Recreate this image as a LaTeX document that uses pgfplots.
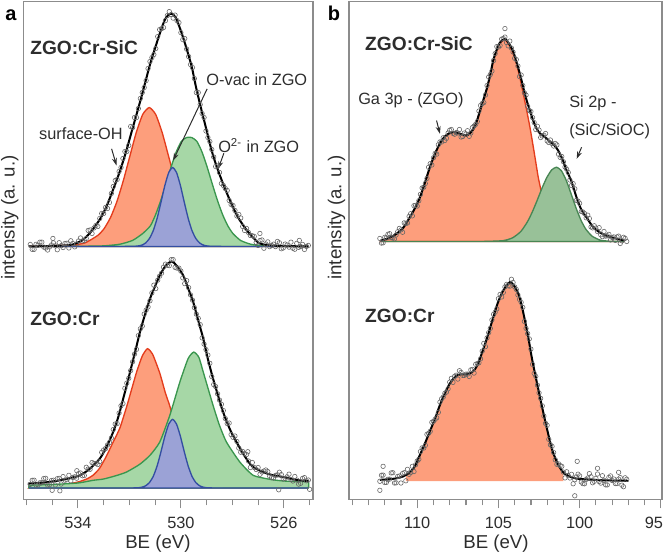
\documentclass[border=0pt]{standalone}
\usepackage{pgfplots}
\pgfplotsset{compat=1.18}
\usepackage{fontspec}
\setmainfont{Liberation Sans}
\usetikzlibrary{arrows.meta}

\definecolor{redfill}{RGB}{253,158,124}
\definecolor{redline}{RGB}{228,60,28}
\definecolor{greenfill}{RGB}{166,215,166}
\definecolor{greenline}{RGB}{58,150,78}
\definecolor{bluefill}{RGB}{155,162,214}
\definecolor{blueline}{RGB}{52,78,162}
\definecolor{sagefill}{RGB}{152,193,152}
\definecolor{sageline}{RGB}{72,134,84}
\definecolor{framegray}{RGB}{140,140,140}
\definecolor{txt}{RGB}{45,45,45}

\newcommand{\tickfont}{\fontsize{9.8}{12}\selectfont}
\newcommand{\labfont}{\fontsize{11.2}{13}\selectfont}
\newcommand{\annfont}{\fontsize{9.8}{12}\selectfont}
\newcommand{\samfont}{\bfseries\fontsize{11.5}{13}\selectfont}

\tikzset{
  arr/.style={-{Stealth[length=4.5pt,width=3pt]}, line width=0.6pt, txt},
  lab/.style={inner sep=0pt, text=txt},
}

\begin{document}
\begin{tikzpicture}
\useasboundingbox (0pt,0pt) rectangle (399.6pt,333pt);
\pgfplotsset{
  panel/.style={
    scale only axis, clip=false, anchor=south west,
    height=298.8pt, ymin=0, ymax=498.3,
    x dir=reverse, ytick=\empty,
    axis line style={framegray, line width=0.7pt},
    tick align=outside, xtick pos=left,
    major tick length=5.4pt, minor tick length=3.6pt,
    tick style={framegray, line width=0.7pt},
    xticklabel style={font=\tickfont, text=txt, yshift=-1.5pt},
    /pgf/number format/assume math mode=true,
  },
  comp/.style={line width=0.8pt, smooth, tension=0.35},
  env/.style={black, line width=1.2pt, smooth, tension=0.5},
  pts/.style={only marks, mark=o, mark size=1.35pt, mark options={draw=black!60, line width=0.35pt}},
}

% ================= panel a =================
\begin{axis}[panel, at={(13.98pt,33.42pt)}, width=173.8pt,
  xmin=524.87, xmax=536.12, xtick={526,530,534},
  minor xtick={525,527,528,529,531,532,533,535,536}]

% --- top: ZGO:Cr-SiC (baseline 253)
\addplot[comp, draw=redline, fill=redfill] coordinates {
(535.9,253) (535.23,253.5) (534.23,254.5) (533.73,256.5) (533.23,264.0) (532.98,270.9)
(532.73,282.1) (532.48,298.2) (532.23,319.3) (531.98,343.5) (531.73,367.3) (531.48,385.2)
(531.23,392) (530.98,385.2) (530.73,367.3) (530.48,343.5) (530.23,319.3) (529.98,298.2)
(529.73,282.1) (529.48,270.9) (529.23,264.0) (528.73,256.5) (528.23,254.5) (527.23,253.5) (525.05,253)
} -- cycle;
\addplot[comp, draw=greenline, fill=greenfill] coordinates {
(535.9,253) (534.5,253.1) (533.08,253.5) (532.38,255.2) (531.88,259.0) (531.48,266.0)
(531.18,273.8) (530.98,284.9) (530.78,299.1) (530.58,315.5) (530.38,332.5) (530.18,347.6)
(529.98,358.2) (529.78,362) (529.58,362) (529.38,358.2) (529.18,347.6) (528.98,332.5)
(528.78,315.5) (528.58,299.1) (528.38,284.9) (528.18,273.8) (527.98,266.0) (527.68,259.0)
(527.28,255.2) (526.78,253.9) (526.08,253.5) (525.05,253)
} -- cycle;
\addplot[comp, draw=blueline, fill=bluefill] coordinates {
(535.9,253) (533.5,253) (532.3,253) (531.72,253.31) (531.52,254.34) (531.37,256.47)
(531.22,260.96) (531.07,269.0) (530.92,281.4) (530.77,297.5) (530.62,314.2) (530.47,327.1)
(530.32,332) (530.17,327.1) (530.02,314.2) (529.87,297.5) (529.72,281.4) (529.57,269.0)
(529.42,260.96) (529.27,256.47) (529.12,254.34) (528.92,253.31) (528.3,253) (527,253) (525.05,253)
} -- cycle;

\addplot[pts] coordinates {
(535.85,255) (535.70,250.1) (535.55,254.2) (535.40,257.3) (535.25,251.4) (535.10,252.5)
(534.95,256.6) (534.80,249.7) (534.65,253.8) (534.50,256) (534.35,251.5) (534.20,256)
(534.05,255.5) (533.90,261.5) (533.75,259) (533.60,269) (533.45,266) (533.30,274)
(533.15,281) (533.00,286) (532.85,291) (532.70,306) (532.55,319) (532.40,328)
(532.25,341) (532.10,348) (531.95,373) (531.80,382) (531.65,391) (531.50,407)
(531.35,419) (531.20,438) (531.05,445) (530.90,463) (530.75,471) (530.60,479)
(530.45,488) (530.30,481.5) (530.15,479) (530.00,467) (529.85,461) (529.70,443)
(529.55,432) (529.40,407) (529.25,395) (529.10,382) (528.95,362) (528.80,350)
(528.65,333) (528.50,327) (528.35,314) (528.20,309) (528.05,295) (527.90,289)
(527.75,285) (527.60,273) (527.45,271) (527.30,264) (527.15,263) (527.00,254)
(526.85,259.5) (526.70,255.5) (526.55,252.8) (526.40,255.3) (526.25,258) (526.10,250.7)
(525.95,255.4) (525.80,252.3) (525.65,251.2) (525.50,256.1) (525.35,253) (525.20,250)
(525.05,254) (534.97,261) (526.93,266) (525.4,259)
(535.775,250.1) (535.625,255.15) (535.475,257.25) (535.325,252.35) (535.175,249.45) (535.025,254.5)
(534.875,253.6) (534.725,256.75) (534.575,251.9) (534.425,256.2) (534.275,258.7) (534.125,252.6)
(533.975,258.5) (533.825,258.5) (533.675,261) (533.525,269.5) (533.375,271.5) (533.225,273)
(533.075,286) (532.925,292) (532.775,297) (532.625,313) (532.475,320) (532.325,332)
(532.175,348) (532.025,354) (531.875,372) (531.725,382) (531.575,401) (531.425,412)
(531.275,431) (531.125,442) (530.975,451) (530.825,470) (530.675,472) (530.525,484)
(530.375,485) (530.225,484.5) (530.075,477) (529.925,460) (529.775,450.5) (529.625,435)
(529.475,421) (529.325,407) (529.175,386) (529.025,368.5) (528.875,358) (528.725,342.5)
(528.575,333.5) (528.425,316) (528.275,311) (528.125,299) (527.975,294) (527.825,283.5)
(527.675,281.5) (527.525,269) (527.375,267) (527.225,263.7) (527.075,257) (526.925,259)
(526.775,251.2) (526.625,257.6) (526.475,254) (526.325,252.85) (526.175,256.7) (526.025,251.5)
(525.875,254.4) (525.725,257.3) (525.575,250.2) (525.425,252.1) (525.275,255) (525.125,253)
};
\addplot[env] coordinates {
(535.9,253) (535.0,253.5) (534.5,254) (534.19,255) (533.85,259) (533.53,266.5)
(533.15,280) (532.89,293) (532.63,310) (532.4,326) (532.15,346) (531.91,368)
(531.55,401) (531.2,435) (531.0,451.5) (530.82,466) (530.6,481) (530.39,486)
(530.2,482) (529.97,466.5) (529.78,451) (529.58,433) (529.4,411) (529.2,389.5)
(529.0,369) (528.81,349.5) (528.61,333) (528.35,315) (528.1,299.5) (527.8,283)
(527.45,269.5) (527.2,262) (526.93,256) (526.5,254) (526.0,253.5) (525.05,253)
};

% --- bottom: ZGO:Cr (baseline 11.3)
\addplot[comp, draw=redline, fill=redfill] coordinates {
(535.9,11.3) (535.8,12.3) (535.0,13.3) (534.5,14.8) (534.0,17.3) (533.66,20.3)
(533.4,24.3) (533.15,31.3) (532.89,43.3) (532.63,57.3) (532.37,71.3) (532.11,92.3)
(531.91,110.3) (531.72,127.3) (531.5,143.3) (531.3,150.7) (531.1,145.3) (530.82,126.3)
(530.6,106.3) (530.43,93.3) (530.2,71.3) (530.0,53.3) (529.75,37.3) (529.5,26.3)
(529.0,17.3) (528.5,14.3) (528.0,12.8) (527.0,11.8) (525.05,11.3)
} -- cycle;
\addplot[comp, draw=greenline, fill=greenfill] coordinates {
(535.9,11.3) (535.85,14.0) (535.0,14.8) (534.0,16.3) (533.41,19.0) (533.0,20.3)
(532.5,23.8) (532.11,27.3) (531.6,35) (531.2,44.0) (530.82,57.3) (530.43,84.0)
(530.04,117.3) (529.72,140.7) (529.50,147.3) (529.3,142) (529.13,127.3) (528.75,94.0)
(528.5,74) (528.23,57.3) (527.71,37.3) (527.19,24.0) (526.5,19.8) (526.0,18.3)
(525.5,17.8) (525.05,17.3) (525.05,11.3)
} -- cycle;
\addplot[comp, draw=blueline, fill=bluefill] coordinates {
(535.9,11.3) (533.5,11.3) (532.3,11.3) (531.72,11.45) (531.52,12.06) (531.37,13.49)
(531.22,16.77) (531.07,23.1) (530.92,33.6) (530.77,47.8) (530.62,63.2) (530.47,75.3)
(530.32,80.0) (530.17,75.3) (530.02,63.2) (529.87,47.8) (529.72,33.6) (529.57,23.1)
(529.42,16.77) (529.27,13.49) (529.12,12.06) (528.92,11.45) (528.3,11.3) (527,11.3) (525.05,11.3)
} -- cycle;

\addplot[pts] coordinates {
(535.85,14.9) (535.70,19.1) (535.55,14.4) (535.40,16.6) (535.25,21) (535.10,14.5)
(534.95,19.1) (534.80,20.6) (534.65,15.3) (534.50,19.1) (534.35,24) (534.20,21.9)
(534.05,21.1) (533.90,26.3) (533.75,23.8) (533.60,30.3) (533.45,36.8) (533.30,35.8)
(533.15,37.7) (533.00,49.3) (532.85,54.3) (532.70,61.3) (532.55,75.3) (532.40,86.3)
(532.25,95.8) (532.10,116.3) (531.95,128.8) (531.80,145.3) (531.65,163.8) (531.50,173.3)
(531.35,189.3) (531.20,198.7) (531.05,214.3) (530.90,219.3) (530.75,226.3) (530.60,235.3)
(530.45,233.8) (530.30,239.8) (530.15,231.3) (530.00,228.3) (529.85,215.8) (529.70,211.8)
(529.55,199.3) (529.40,185.3) (529.25,174.8) (529.10,155.3) (528.95,144.3) (528.80,122.8)
(528.65,112.8) (528.50,99.3) (528.35,88.8) (528.20,75.8) (528.05,64.8) (527.90,63.3)
(527.75,51.3) (527.60,47.8) (527.45,44.8) (527.30,31.8) (527.15,31.8) (527.00,31.8)
(526.85,27.3) (526.70,29.3) (526.55,23.1) (526.40,21.3) (526.25,24.5) (526.10,24.7)
(525.95,20.9) (525.80,25.1) (525.65,18.3) (525.50,19.3) (525.35,16) (525.20,21.7)
(525.05,19.3) (535.0,9) (534.7,8.5) (526.2,9.5) (525.0,10) (534.04,28.6) (527.4,47.6)
(535.775,19.0) (535.625,14.25) (535.475,16.5) (535.325,20.8) (535.175,14.25) (535.025,18.8)
(534.875,14.35) (534.725,20.95) (534.575,22.7) (534.425,19.55) (534.275,18.45) (534.125,22.5)
(533.975,25.7) (533.825,23.55) (533.675,32.05) (533.525,30.05) (533.375,35.8) (533.225,34.75)
(533.075,47) (532.925,50.8) (532.775,56.8) (532.625,69.8) (532.475,75.8) (532.325,93.55)
(532.175,111.05) (532.025,121.05) (531.875,137.55) (531.725,150.05) (531.575,170.55) (531.425,185.3)
(531.275,192.5) (531.125,206.5) (530.975,210.8) (530.825,223.3) (530.675,232.3) (530.525,234.05)
(530.375,239.8) (530.225,232.05) (530.075,231.3) (529.925,221.55) (529.775,218.8) (529.625,204.55)
(529.475,191.8) (529.325,181.05) (529.175,161.55) (529.025,149.8) (528.875,136.05) (528.725,114.8)
(528.575,105.55) (528.425,95.05) (528.275,80.8) (528.125,76.3) (527.975,62.05) (527.825,57.8)
(527.675,47.05) (527.525,45.8) (527.375,38.3) (527.225,36.8) (527.075,29.8) (526.925,25.05)
(526.775,28.3) (526.625,27.7) (526.475,21.7) (526.325,23.9) (526.175,27.1) (526.025,20.3)
(525.875,22.5) (525.725,19.7) (525.575,22.8) (525.425,15.15) (525.275,20.85) (525.125,18.5)
};
\addplot[env] coordinates {
(535.94,15.7) (535.3,16.8) (534.70,19) (534.3,21.3) (533.92,24) (533.55,30.3)
(533.15,40.7) (532.89,52.3) (532.63,67.3) (532.42,83.3) (532.24,100.7) (532.07,117.3)
(531.91,134) (531.75,150.3) (531.59,167.3) (531.40,184.3) (531.20,200.7) (531.0,213.3)
(530.82,224) (530.6,233.3) (530.36,238) (530.15,233.3) (529.91,224) (529.72,211.3)
(529.52,197.3) (529.33,179.3) (529.13,160.7) (528.95,140.3) (528.75,120.7) (528.55,103.3)
(528.36,87.3) (528.1,70.3) (527.84,57.3) (527.5,42.3) (527.19,32.3) (526.6,25.3)
(526.03,22.3) (525.5,19.3) (525.02,18.3)
};

% annotations
\node[lab, anchor=west, font=\samfont] at (axis cs:535.86,452) {ZGO:Cr-SiC};
\node[lab, anchor=west, font=\samfont] at (axis cs:535.86,181) {ZGO:Cr};
\node[lab, font=\annfont] at (axis cs:533.88,366) {surface-OH};
\draw[arr] (axis cs:532.69,350.7) -- (axis cs:532.50,334);
\node[lab, font=\annfont] at (axis cs:527.05,420) {O-vac in ZGO};
\draw[arr] (axis cs:528.98,410.7) -- (axis cs:530.30,339);
\node[lab, anchor=west, font=\annfont] at (axis cs:528.56,354) {O\textsuperscript{2-} in ZGO};
\draw[arr] (axis cs:528.33,346.3) -- (axis cs:528.55,330.7);
\node[lab, anchor=base, font=\labfont] at (axis cs:530.89,0) [yshift=-29.6pt] {BE (eV)};
\node[lab, rotate=90, font=\labfont] at (axis cs:536.64,282) {intensity (a. u.)};
\node[lab, anchor=base, font=\bfseries\fontsize{12}{14}\selectfont, text=black] at (axis cs:536.60,479.3) {a};
\end{axis}

% ================= panel b =================
\begin{axis}[panel, at={(209.4pt,33.42pt)}, width=187.8pt,
  xmin=94.93, xmax=114.2, xtick={95,100,105,110},
  xticklabels={{\hspace*{-8.4pt}95},100,105,110},
  minor xtick={96,97,98,99,101,102,103,104,106,107,108,109,111,112,113,114}]

% --- top: ZGO:Cr-SiC (baseline 258)
\addplot[comp, draw=redline, fill=redfill] coordinates {
(112.25,258) (112.2,259) (111.8,261) (111.27,265.7) (110.85,272) (110.45,282.3)
(110.15,291) (109.83,302.3) (109.5,318) (109.22,332.3) (108.9,346) (108.6,356)
(108.3,363) (108.0,366.5) (107.76,367.5) (107.4,366) (106.96,364) (106.6,369)
(106.34,378) (106.0,396) (105.73,410) (105.5,425) (105.32,438.5) (105.1,449.5)
(104.91,456.5) (104.6,459.7) (104.35,455) (104.09,446) (103.88,435.7) (103.68,422)
(103.47,405.7) (103.26,389) (103.06,372.3) (102.9,357) (102.75,342.3) (102.55,322.3)
(102.4,310.7) (102.2,295) (102.0,282) (101.8,272) (101.5,264) (101.2,260)
(100.8,258.5) (100.4,258) (97.25,258)
} -- cycle;
\addplot[comp, draw=sageline, fill=sagefill] coordinates {
(112.25,258) (108,258) (106,258) (104.72,258.8) (104.12,261.7) (103.62,268.0)
(103.22,277.5) (102.92,287.3) (102.62,298.9) (102.32,311.2) (102.02,322.0) (101.72,329.6)
(101.42,332.3) (101.12,328.7) (100.82,318.9) (100.52,305.4) (100.22,291.4) (99.92,279.3)
(99.62,270.3) (99.22,263.1) (98.72,259.3) (98.12,258.2) (97.25,258)
} -- cycle;

\addplot[pts] coordinates {
(112.3,261) (112.1,256.7) (111.9,261.5) (111.7,265.8) (111.5,261.7) (111.3,264.5)
(111.1,271) (110.9,267.2) (110.7,276) (110.5,283) (110.3,283.6) (110.1,294)
(109.9,298.8) (109.7,311.5) (109.5,316) (109.3,332.2) (109.1,334.5) (108.9,346)
(108.7,354.7) (108.5,357.5) (108.3,359) (108.1,366.5) (107.9,370) (107.7,365.3)
(107.5,366.5) (107.3,362.5) (107.1,366.5) (106.9,368.8) (106.7,366.5) (106.5,373.5)
(106.3,378) (106.1,394) (105.9,397) (105.7,414) (105.5,425) (105.3,439)
(105.1,453) (104.9,454) (104.7,461) (104.5,457) (104.3,458.5) (104.1,447.5)
(103.9,440) (103.7,423) (103.5,414) (103.3,404.5) (103.1,389) (102.9,382)
(102.7,370) (102.5,369.5) (102.3,363.5) (102.1,366) (101.9,357) (101.7,356)
(101.5,356) (101.3,345.3) (101.1,343) (100.9,332.5) (100.7,327) (100.5,314)
(100.3,310.7) (100.1,298.4) (99.9,288) (99.7,286) (99.5,284.3) (99.3,272.5)
(99.1,273.7) (98.9,268) (98.7,264.6) (98.5,268) (98.3,263.7) (98.1,259.5)
(97.9,262.5) (97.7,262.6) (97.5,256) (97.3,262.2) (97.1,258) (104.6,471)
(112.2,256.35) (112.0,262.1) (111.8,265.15) (111.6,261.75) (111.4,260.6) (111.2,267.75)
(111.0,269.6) (110.8,276.6) (110.6,276.5) (110.4,285.8) (110.2,293.8) (110.0,293.4)
(109.8,305.15) (109.6,312.25) (109.4,321.1) (109.2,335.85) (109.0,341.75) (108.8,345.35)
(108.6,357.6) (108.4,361.75) (108.2,361.25) (108.0,369.25) (107.8,366.15) (107.6,366.9)
(107.4,370) (107.2,363) (107.0,365.65) (106.8,363.15) (106.6,372) (106.4,375.25)
(106.2,388.5) (106.0,396) (105.8,404.5) (105.6,422.5) (105.4,428.5) (105.2,446)
(105.0,452.5) (104.8,460.5) (104.6,462.5) (104.4,453.75) (104.2,451.5) (104.0,441.25)
(103.8,433.5) (103.6,424.5) (103.4,406.75) (103.2,393.25) (103.0,388) (102.8,377)
(102.6,373.25) (102.4,362) (102.2,364.25) (102.0,358.5) (101.8,359.5) (101.6,353.5)
(101.4,354.65) (101.2,342.15) (101.0,337.75) (100.8,330.25) (100.6,319.5) (100.4,315.85)
(100.2,299.05) (100.0,296.2) (99.8,287.5) (99.6,281.65) (99.4,280.9) (99.2,271.6)
(99.0,271.35) (98.8,271.8) (98.6,262.8) (98.4,263.35) (98.2,265.1) (98.0,262)
(97.8,259.05) (97.6,263.3) (97.4,258.6) (97.2,261.1)
};
\addplot[env] coordinates {
(112.25,259) (111.8,261) (111.27,265.7) (110.85,272) (110.45,282.3) (110.15,291)
(109.83,302.3) (109.5,318) (109.22,332.3) (108.9,346) (108.6,356) (108.3,363)
(108.0,366.5) (107.76,367.5) (107.4,366) (106.96,364) (106.6,369) (106.34,378)
(106.0,396) (105.73,410) (105.5,425) (105.32,439) (105.1,450) (104.91,457)
(104.6,460.7) (104.35,456) (104.09,448) (103.88,437) (103.68,425.7) (103.47,412)
(103.26,399) (103.06,389) (102.86,379) (102.65,371) (102.44,366) (102.1,362)
(101.83,358) (101.55,354) (101.32,349) (101.05,340) (100.8,329) (100.5,318)
(100.19,302) (99.9,290) (99.57,282) (99.2,273) (98.75,267) (98.2,263)
(97.72,260.7) (97.25,259)
};

% --- bottom: ZGO:Cr (baseline 18.3)
\addplot[fill=redfill, draw=none] coordinates {
(110.7,18.3) (110.7,24.3) (110.45,26.8) (110.15,32.8) (109.9,41.8) (109.6,52.8)
(109.22,67.8) (108.9,80.8) (108.61,93.8) (108.3,105.8) (107.99,115.8) (107.7,121.8)
(107.48,124.3) (107.2,124.8) (106.96,124.8) (106.7,126.3) (106.45,129.8) (106.2,137.8)
(105.94,149.8) (105.65,163.8) (105.32,181.8) (105.05,195.8) (104.8,205.8) (104.55,212.8)
(104.29,217.1) (104.05,213.8) (103.78,205.8) (103.57,193.8) (103.37,178.8) (103.15,160.8)
(102.96,142.8) (102.7,121.8) (102.44,101.8) (102.2,83.8) (101.93,64.8) (101.7,49.8)
(101.42,37.8) (101.15,29.8) (101.0,27.5) (101.0,18.3)
} -- cycle;

\addplot[pts] coordinates {
(112.3,18) (112.1,24.2) (111.9,16.9) (111.7,20.2) (111.5,26.6) (111.3,16.5)
(111.1,23.3) (110.9,25.8) (110.7,18.5) (110.5,25) (110.3,33) (110.1,34.5)
(109.9,40) (109.7,51.5) (109.5,54) (109.3,66) (109.1,77) (108.9,80)
(108.7,87) (108.5,100.5) (108.3,106) (108.1,110.5) (107.9,121) (107.7,123)
(107.5,120.3) (107.3,127) (107.1,124) (106.9,125.3) (106.7,129.5) (106.5,126.3)
(106.3,135.8) (106.1,140.5) (105.9,156) (105.7,161.5) (105.5,171) (105.3,185)
(105.1,190.5) (104.9,205) (104.7,207) (104.5,215) (104.3,213.3) (104.1,217)
(103.9,210) (103.7,200) (103.5,192) (103.3,171) (103.1,160.5) (102.9,135)
(102.7,123) (102.5,106.5) (102.3,93.5) (102.1,76) (101.9,60) (101.7,53)
(101.5,39.5) (101.3,35.5) (101.1,33) (100.9,21.4) (100.7,23.7) (100.5,25)
(100.3,19.6) (100.1,25.1) (99.9,17.3) (99.7,15.5) (99.5,21.3) (99.3,22.6)
(99.1,18) (98.9,25.3) (98.7,16.2) (98.5,19) (98.3,14.4) (98.1,23.4)
(97.9,20.3) (97.7,15.7) (97.5,21.7) (97.3,12.6) (97.1,20)
(112.3,9) (112.1,33) (100.3,3.5) (100.15,38) (98.9,31) (97.6,27)
(112.2,24.1) (112.0,16.8) (111.8,20.05) (111.6,26.4) (111.4,16.3) (111.2,22.9)
(111.0,16.3) (110.8,26.65) (110.6,30) (110.4,26.75) (110.2,27.75) (110.0,38.25)
(109.8,47.75) (109.6,51.25) (109.4,65) (109.2,68) (109.0,78) (108.8,81.5)
(108.6,97.25) (108.4,102.25) (108.2,107.25) (108.0,117.25) (107.8,117) (107.6,124.15)
(107.4,128.65) (107.2,124) (107.0,125.15) (106.8,122.9) (106.6,129.9) (106.4,135.05)
(106.2,136.65) (106.0,148.25) (105.8,152.75) (105.6,166.75) (105.4,179.5) (105.2,187.25)
(105.0,200.75) (104.8,202.5) (104.6,212.5) (104.4,213.65) (104.2,220.15) (104.0,212.5)
(103.8,204.5) (103.6,197) (103.4,178) (103.2,165.75) (103.0,150.25) (102.8,126)
(102.6,114.25) (102.4,101) (102.2,83.25) (102.0,74) (101.8,54.5) (101.6,46.75)
(101.4,35) (101.2,33.75) (101.0,27.2) (100.8,27.55) (100.6,21.35) (100.4,15.55)
(100.2,22.35) (100.0,23.45) (99.8,15.65) (99.6,19.9) (99.4,25.7) (99.2,16.55)
(99.0,20.9) (98.8,17.75) (98.6,23.6) (98.4,14.45) (98.2,21.9) (98.0,18.85)
(97.8,15.75) (97.6,20.2) (97.4,14.15) (97.2,21.55)
};
\addplot[env] coordinates {
(112.3,19.5) (111.8,20) (111.27,21) (110.85,23) (110.45,27) (110.15,33)
(109.9,42) (109.6,53) (109.22,68) (108.9,81) (108.61,94) (108.3,106)
(107.99,116) (107.7,122) (107.48,124.5) (107.2,125) (106.96,125) (106.7,126.5)
(106.45,130) (106.2,138) (105.94,150) (105.65,164) (105.32,182) (105.05,196)
(104.8,206) (104.55,213) (104.29,217.3) (104.05,214) (103.78,206) (103.57,194)
(103.37,179) (103.15,161) (102.96,143) (102.7,122) (102.44,102) (102.2,84)
(101.93,65) (101.7,50) (101.42,38) (101.15,30) (100.91,25.5) (100.5,22)
(100.19,20.7) (99.5,19.8) (98.5,19) (97.0,18.5)
};

% annotations
\node[lab, anchor=west, font=\samfont] at (axis cs:113.22,456) {ZGO:Cr-SiC};
\node[lab, anchor=west, font=\samfont] at (axis cs:113.22,184) {ZGO:Cr};
\node[lab, anchor=west, font=\annfont] at (axis cs:113.65,399) {Ga 3p - (ZGO)};
\draw[arr] (axis cs:108.81,379) -- (axis cs:108.60,365.7);
\node[lab, anchor=west, font=\annfont] at (axis cs:100.66,396) {Si 2p -};
\node[lab, anchor=west, font=\annfont] at (axis cs:100.66,368) {(SiC/SiOC)};
\draw[arr] (axis cs:99.88,352.3) -- (axis cs:100.18,340.7);
\node[lab, anchor=base, font=\labfont] at (axis cs:105.15,0) [yshift=-29.6pt] {BE (eV)};
\node[lab, rotate=90, font=\labfont] at (axis cs:114.96,282) {intensity (a. u.)};
\node[lab, anchor=base, font=\bfseries\fontsize{12}{14}\selectfont, text=black] at (axis cs:115.13,479.3) {b};
\end{axis}
\end{tikzpicture}
\end{document}
